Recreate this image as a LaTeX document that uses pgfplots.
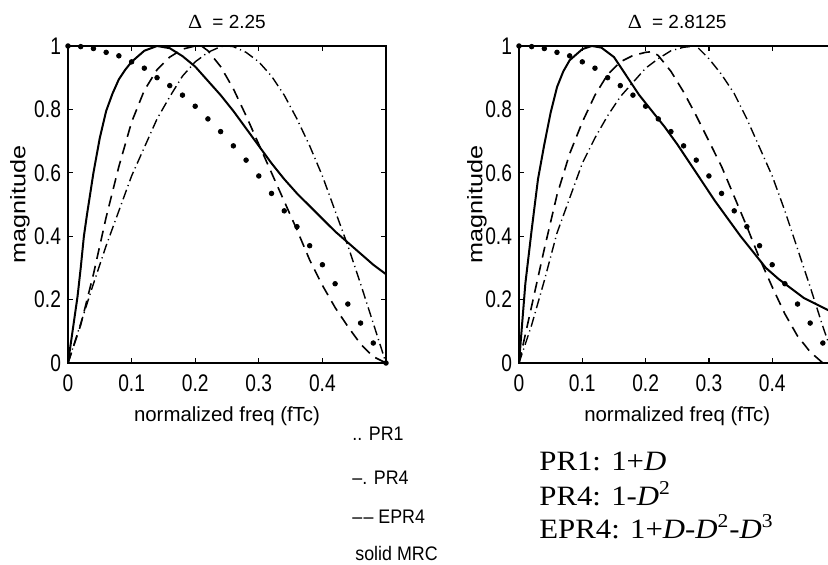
\documentclass[border=0pt]{standalone}
\usepackage{pgfplots}
\pgfplotsset{compat=1.18}
\usepackage{fontspec}
\setmainfont{Liberation Sans}
\newfontfamily\tickfont{Liberation Sans}[FakeStretch=0.8]
\newfontfamily\legfont{Liberation Sans}[FakeStretch=0.91]
\newfontfamily\ylabfont{Liberation Sans}[FakeStretch=1.2]
\newfontfamily\tnr{Liberation Serif}[FakeStretch=1.1]

\pgfplotsset{
  matlab/.style={
    scale only axis, width=159pt, height=158.5pt,
    xmin=0, xmax=0.5, ymin=0, ymax=1,
    xtick={0,0.1,0.2,0.3,0.4}, xticklabels={0,0.1,0.2,0.3,0.4},
    ytick={0,0.2,0.4,0.6,0.8,1}, yticklabels={0,0.2,0.4,0.6,0.8,1},
    tick align=inside, major tick length=2.5pt,
    every tick/.style={black, line width=0.6pt},
    axis line style={line width=0.8pt},
    /pgf/number format/assume math mode=true,
    ticklabel style={font=\tickfont\fontsize{12}{13}\selectfont},
    xticklabel style={yshift=-2.5pt},
    xlabel={normalized freq (fTc)},
    xlabel style={font=\fontsize{10.2}{12}\selectfont, at={(axis description cs:0.5,0)}, anchor=base, yshift=-29pt},
    ylabel={magnitude},
    ylabel style={font=\ylabfont\fontsize{10.5}{12}\selectfont, at={(axis description cs:0,0.5)}, anchor=center},
    title style={font=\fontsize{9.5}{11}\selectfont, at={(axis description cs:0.5,1)}, anchor=base, yshift=2.5pt},
  },
  mrc/.style={black, line width=1pt},
  epr/.style={black, line width=0.8pt, dash pattern=on 5.5pt off 3.5pt},
  prf/.style={black, line width=0.7pt, dash pattern=on 5pt off 2pt on 0.6pt off 2pt},
  pro/.style={black, only marks, mark=*, mark size=1.15pt},
}

\begin{document}
\begin{tikzpicture}
\path[use as bounding box] (0,0) rectangle (414pt,-282.5pt);

% left: Delta = 2.25
\begin{axis}[matlab, at={(34pt,-181.5pt)}, anchor=south west,
  ylabel style={yshift=24pt},
  title={{\tnr\fontsize{10}{12}\selectfont Δ}\hspace{5pt}= 2.25}]
\addplot[mrc] coordinates {(0,0) (0.005,0.07) (0.01,0.14) (0.015,0.21) (0.02,0.30) (0.025,0.40) (0.03,0.47) (0.04,0.60) (0.05,0.71) (0.06,0.795) (0.07,0.85) (0.08,0.895) (0.09,0.925) (0.10,0.95) (0.12,0.985) (0.14,1.0) (0.16,0.993) (0.18,0.968) (0.20,0.935) (0.22,0.89) (0.24,0.845) (0.26,0.795) (0.28,0.74) (0.30,0.685) (0.32,0.63) (0.34,0.58) (0.36,0.535) (0.38,0.495) (0.40,0.455) (0.42,0.415) (0.44,0.38) (0.46,0.345) (0.48,0.31) (0.50,0.28)};
\addplot[epr] coordinates {(0,0) (0.02,0.12) (0.04,0.28) (0.06,0.46) (0.08,0.62) (0.10,0.76) (0.12,0.86) (0.14,0.925) (0.16,0.965) (0.18,0.99) (0.20,1.0) (0.21,1.0) (0.22,0.985) (0.24,0.935) (0.26,0.865) (0.28,0.78) (0.30,0.69) (0.32,0.60) (0.34,0.51) (0.36,0.42) (0.38,0.325) (0.40,0.245) (0.42,0.175) (0.44,0.115) (0.46,0.06) (0.48,0.02) (0.50,0)};
\addplot[prf] coordinates {(0,0) (0.02,0.125) (0.04,0.25) (0.06,0.37) (0.08,0.48) (0.10,0.59) (0.12,0.68) (0.14,0.77) (0.16,0.84) (0.18,0.905) (0.20,0.95) (0.22,0.98) (0.24,0.998) (0.25,1.0) (0.26,0.998) (0.28,0.98) (0.30,0.95) (0.32,0.905) (0.34,0.845) (0.36,0.77) (0.38,0.685) (0.40,0.59) (0.42,0.48) (0.44,0.37) (0.46,0.25) (0.48,0.125) (0.50,0)};
\addplot[pro] coordinates {(0,1) (0.02,0.998) (0.04,0.992) (0.06,0.98) (0.08,0.969) (0.10,0.95) (0.12,0.93) (0.14,0.90) (0.16,0.875) (0.18,0.845) (0.20,0.81) (0.22,0.77) (0.24,0.73) (0.26,0.685) (0.28,0.64) (0.30,0.59) (0.32,0.535) (0.34,0.48) (0.36,0.43) (0.38,0.37) (0.40,0.31) (0.42,0.25) (0.44,0.186) (0.46,0.126) (0.48,0.063) (0.50,0)};
\end{axis}

% right: Delta = 2.8125 (right edge cut off by the page)
\begin{axis}[matlab, at={(259.5pt,-181.5pt)}, anchor=south west, width=158.25pt,
  ylabel style={yshift=21pt},
  title={{\tnr\fontsize{10}{12}\selectfont Δ}\hspace{5pt}= 2.8125}]
\addplot[mrc] coordinates {(0,0) (0.01,0.25) (0.02,0.42) (0.03,0.58) (0.04,0.69) (0.05,0.79) (0.06,0.87) (0.07,0.92) (0.08,0.955) (0.10,0.99) (0.115,1.0) (0.13,0.995) (0.15,0.965) (0.17,0.905) (0.19,0.845) (0.21,0.795) (0.23,0.745) (0.25,0.69) (0.27,0.63) (0.29,0.57) (0.31,0.51) (0.33,0.455) (0.35,0.40) (0.37,0.35) (0.39,0.30) (0.41,0.265) (0.43,0.235) (0.45,0.205) (0.47,0.185) (0.49,0.165) (0.50,0.155)};
\addplot[epr] coordinates {(0,0) (0.02,0.18) (0.04,0.36) (0.06,0.53) (0.08,0.66) (0.10,0.76) (0.12,0.845) (0.14,0.91) (0.16,0.95) (0.18,0.97) (0.20,0.98) (0.21,0.982) (0.22,0.97) (0.24,0.92) (0.26,0.855) (0.28,0.78) (0.30,0.70) (0.32,0.62) (0.34,0.525) (0.36,0.43) (0.38,0.33) (0.40,0.24) (0.42,0.155) (0.44,0.085) (0.46,0.035) (0.48,0.0) (0.50,0)};
\addplot[prf] coordinates {(0,0) (0.02,0.12) (0.04,0.26) (0.06,0.41) (0.08,0.52) (0.10,0.63) (0.12,0.71) (0.14,0.78) (0.16,0.84) (0.18,0.885) (0.20,0.93) (0.22,0.96) (0.24,0.985) (0.26,0.996) (0.28,1.0) (0.30,0.96) (0.32,0.91) (0.34,0.85) (0.36,0.77) (0.38,0.68) (0.40,0.59) (0.42,0.48) (0.44,0.36) (0.46,0.24) (0.48,0.115) (0.50,0)};
\addplot[pro] coordinates {(0,1) (0.02,0.998) (0.04,0.992) (0.06,0.98) (0.08,0.969) (0.10,0.95) (0.12,0.93) (0.14,0.90) (0.16,0.875) (0.18,0.845) (0.20,0.81) (0.22,0.77) (0.24,0.73) (0.26,0.685) (0.28,0.64) (0.30,0.59) (0.32,0.535) (0.34,0.48) (0.36,0.43) (0.38,0.37) (0.40,0.31) (0.42,0.25) (0.44,0.186) (0.46,0.126) (0.48,0.063) (0.50,0)};
\end{axis}

% line-style key
\begin{scope}[every node/.style={anchor=base west, inner sep=0pt, font=\legfont\fontsize{9.8}{11}\selectfont}]
\node at (176pt,-220.5pt) {.. PR1};
\node at (176pt,-242.5pt) {\textendash. PR4};
\node at (176pt,-261.5pt) {\textendash\kern0.6pt\textendash\ EPR4};
\node at (177.5pt,-280pt) {solid MRC};
\end{scope}

% target polynomials
\begin{scope}[every node/.style={anchor=base west, inner sep=0pt, font=\tnr\fontsize{14}{16}\selectfont}]
\node at (269.5pt,-235.5pt) {PR1: 1+\textit{D}};
\node at (269.5pt,-252.5pt) {PR4: 1-\textit{D}\textsuperscript{2}};
\node at (269.5pt,-269pt) {EPR4: 1+\textit{D}-\textit{D}\textsuperscript{2}-\textit{D}\textsuperscript{3}};
\end{scope}
\end{tikzpicture}
\end{document}
